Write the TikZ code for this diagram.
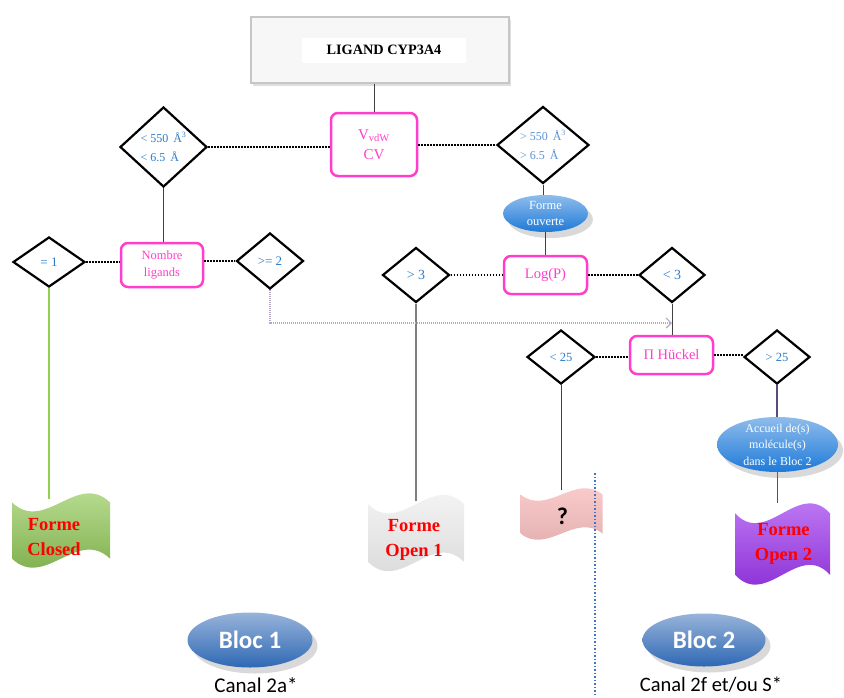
\documentclass[tikz,border=0pt]{standalone}
\usepackage{fontspec}
\setmainfont{Liberation Serif}
\newfontfamily\calib{Carlito}
\usetikzlibrary{shapes.geometric, shadows, backgrounds, arrows.meta}

\definecolor{rose}{HTML}{FF3FCB}
\definecolor{bleu}{HTML}{2E7DC8}
\definecolor{bleuclair}{HTML}{5B93D3}
\definecolor{vert}{HTML}{92D050}
\definecolor{lilas}{HTML}{B4A7C8}
\definecolor{prune}{HTML}{5F497A}
\definecolor{trait}{HTML}{404040}
\definecolor{separ}{HTML}{4472C4}
\definecolor{ciel}{HTML}{1E7AD8}
\definecolor{bloc}{HTML}{2F68B4}
\definecolor{mauve}{HTML}{9A28F5}

% wave shaped flag behind a node (node name, width, height, fill and offset)
\newcommand{\waveflag}[4]{%
  \begin{scope}[on background layer, shift={(#1.center)}, x=#2pt, y=#3pt]
    \path[#4] (-0.5,0.375) .. controls (-0.1667,-0.0417) and (0.1667,0.7917) .. (0.5,0.375)
      -- (0.5,-0.375) .. controls (0.1667,0.0417) and (-0.1667,-0.7917) .. (-0.5,-0.375) -- cycle;
  \end{scope}}

\begin{document}
\begin{tikzpicture}[x=1pt, y=-1pt,
    test/.style={diamond, draw=black, line width=2.2pt, fill=white, inner sep=0pt, text=bleu, align=center},
    crit/.style={rectangle, rounded corners=7pt, draw=rose, line width=2.5pt, fill=white, text=rose, align=center, inner sep=0pt},
    bulle/.style={ellipse, inner xsep=0pt, inner ysep=-4pt, top color=#1!50!white, bottom color=#1, text=white, align=center,
        drop shadow={opacity=0.3, shadow xshift=5pt, shadow yshift=-6pt}},
    forme/.style={rectangle, inner sep=0pt, text=red, align=center, font=\fontsize{18.5}{25}\selectfont\bfseries},
    lien/.style={draw=trait, line width=1pt},
    pointille/.style={line width=2.2pt, dash pattern=on 1.6pt off 1.4pt},
]
\useasboundingbox (0,0) rectangle (844,697);

% title
\node[draw=gray!45, line width=2pt, fill=gray!6, minimum width=258, minimum height=66,
    drop shadow={opacity=0.25, shadow xshift=2pt, shadow yshift=-3pt}] (cadre) at (380,50) {};
\node[fill=white, minimum width=164, minimum height=25, font=\fontsize{14.3}{16}\selectfont\bfseries] (titre) at (384,50) {LIGAND CYP3A4};

% first level
\node[crit, minimum width=86, minimum height=63, font=\fontsize{15}{20}\selectfont] (vdw) at (374,144.5) {V\textsubscript{vdW}\\CV};
\node[test, align=left, minimum width=87, minimum height=80, font=\fontsize{12}{19}\selectfont] (petit) at (163.5,147) {< 550 \,Å\textsuperscript{3}\\< 6.5 \,Å};
\node[test, align=left, text=bleuclair, minimum width=92, minimum height=77, font=\fontsize{12}{19}\selectfont] (grand) at (543,145) {> 550 \,Å\textsuperscript{3}\\> 6.5 \,Å};

\draw[lien] (cadre.south -| vdw.north) -- (vdw.north);
\draw[pointille] (petit.east) -- (petit.east -| vdw.west);
\draw[pointille] (grand.west -| vdw.east) -- (grand.west);

% Bloc 1 side
\node[crit, minimum width=82, minimum height=44, font=\fontsize{12.5}{17}\selectfont] (nombre) at (162,265) {Nombre\\ligands};
\node[test, minimum width=72, minimum height=50, font=\fontsize{13}{15}\selectfont] (un) at (49,262) {= 1};
\node[test, minimum width=67, minimum height=56, font=\fontsize{13}{15}\selectfont] (deux) at (270,261) {>= 2};

\draw[lien] (petit.south) -- (petit.south |- nombre.north);
\draw[pointille] (un.east) -- (un.east -| nombre.west);
\draw[pointille] (deux.west -| nombre.east) -- (deux.west);

% Bloc 2 side
\node[bulle=ciel, minimum width=85, minimum height=37, inner ysep=-3pt, font=\fontsize{12.5}{16}\selectfont] (ouverte) at (545.5,213.5) {Forme\\ouverte};
\node[crit, minimum width=83, minimum height=38, font=\fontsize{14.5}{17}\selectfont] (logp) at (545.5,275) {Log(P)};
\node[test, minimum width=67, minimum height=55, font=\fontsize{14}{16}\selectfont] (supt) at (416,275) {> 3};
\node[test, minimum width=66, minimum height=55, font=\fontsize{14}{16}\selectfont] (inft) at (672,275) {< 3};

\draw[lien] (grand.south) -- (grand.south |- ouverte.north);
\draw[lien] (ouverte.south) -- (ouverte.south |- logp.north);
\draw[pointille] (supt.east) -- (supt.east -| logp.west);
\draw[pointille] (inft.west -| logp.east) -- (inft.west);

\node[crit, minimum width=83, minimum height=38, font=\fontsize{14.5}{17}\selectfont] (huckel) at (671.5,355) {Π Hückel};
\node[test, minimum width=68, minimum height=54, font=\fontsize{12.5}{15}\selectfont] (inf25) at (561,357) {< 25};
\node[test, minimum width=66, minimum height=54, font=\fontsize{12.5}{15}\selectfont] (sup25) at (777,357) {> 25};
\node[bulle=ciel, minimum width=121, minimum height=55, font=\fontsize{12}{16.5}\selectfont] (accueil) at (777.5,444.5) {Accueil de(s)\\molécule(s)\\dans le Bloc 2};

\draw[lien] (inft.south) -- (inft.south |- huckel.north);
\draw[pointille] (inf25.east) -- (inf25.east -| huckel.west);
\draw[pointille] (huckel.east) -- (huckel.east -| sup25.west);
\draw[prune, line width=1.3pt] (sup25.south) -- (sup25.south |- accueil.north);

% link from >= 2 to the < 3 branch
\coordinate (jonction) at (672,323);
\draw[lilas, line width=1.4pt, dash pattern=on 1pt off 1pt, -{Straight Barb[length=5pt, width=10pt, line width=1.2pt]}] (deux.south) |- (jonction);

% end forms
\node[forme, minimum width=98, minimum height=75] (closed) at (54,537) {Forme\\Closed};
\node[forme, minimum width=96, minimum height=77] (open1) at (414,540) {Forme\\Open 1};
\node[rectangle, inner sep=0pt, minimum width=82, minimum height=52, font=\calib\fontsize{24}{26}\selectfont\bfseries] (quest) at (562.5,516) {?};
\node[forme, minimum width=95, minimum height=82] (open2) at (783.5,544) {Forme\\Open 2};

\begin{scope}[on background layer]
\draw[vert, line width=1.6pt] (un.south) -- (un.south |- closed.north);
\draw[gray, line width=1.6pt] (supt.south) -- (supt.south |- open1.north);
\draw[lien] (inf25.south) -- (inf25.south |- quest.north);
\draw[prune, line width=1.3pt] (accueil.south) -- (accueil.south |- open2.north);
\end{scope}

\waveflag{closed}{98}{75}{top color=vert!55!white, bottom color=vert!80!black, xshift=7pt, yshift=6.5pt}
\waveflag{open1}{96}{77}{top color=gray!5, bottom color=gray!32, xshift=2pt, yshift=7pt}
\waveflag{quest}{82}{52}{top color=red!18!white, bottom color=red!45!gray!45, xshift=-1pt, yshift=2pt}
\waveflag{open2}{95}{82}{top color=mauve!55!white, bottom color=mauve!85!black, xshift=-1pt}

% separator between the two blocs
\draw[separ, line width=1.5pt, dash pattern=on 1.5pt off 2pt] (595,473) -- (595,697);

% blocs
\node[bulle=bloc, minimum width=125, minimum height=55, font=\calib\fontsize{25}{28}\selectfont\bfseries] (bloc1) at (250,640) {Bloc 1};
\node[bulle=bloc, minimum width=123, minimum height=53, font=\calib\fontsize{25}{28}\selectfont\bfseries] (bloc2) at (704,640) {Bloc 2};
\node[font=\calib\fontsize{21}{24}\selectfont] (canal1) at (256,685) {Canal 2a*};
\node[font=\calib\fontsize{20.5}{24}\selectfont] (canal2) at (711,685) {Canal 2f et/ou S*};

\end{tikzpicture}
\end{document}
